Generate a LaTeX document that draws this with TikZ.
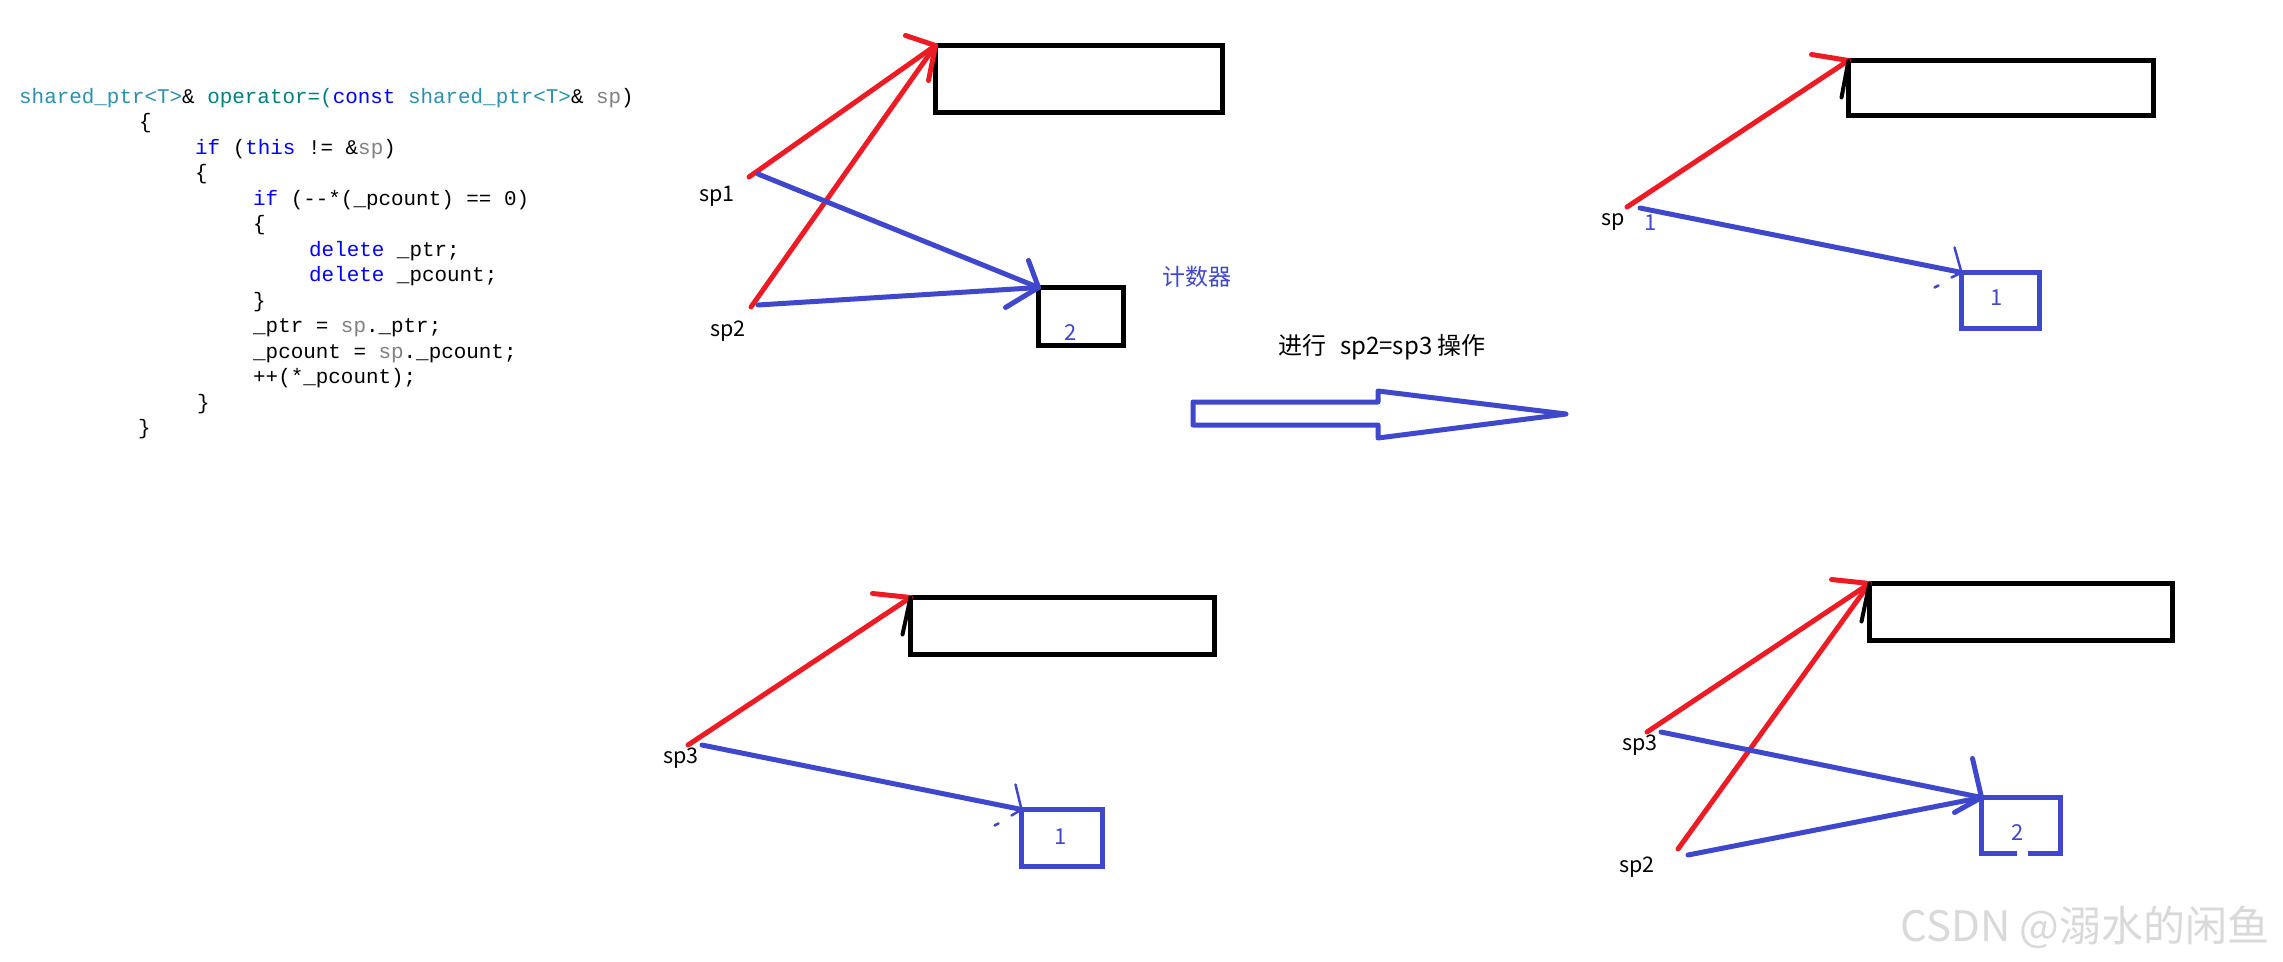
\documentclass[tikz,border=0pt]{standalone}
\usepackage{fontspec}
\usepackage{tikz}
\usepackage{xcolor}
\setmainfont{Noto Sans CJK SC}
\newfontfamily\codefont{Liberation Mono}
\definecolor{Paint_Red}{HTML}{ED1C24}
\definecolor{Paint_Blue}{HTML}{3F48CC}
\definecolor{Code_Type}{HTML}{2B91AF}
\definecolor{Code_Op}{HTML}{008080}
\definecolor{Code_Key}{HTML}{0000FF}
\definecolor{Code_Arg}{HTML}{808080}

\begin{document}
\begin{tikzpicture}[x=1pt, y=-1pt,
    redpen/.style={Paint_Red, line width=5pt, line cap=round, line join=round},
    bluepen/.style={Paint_Blue, line width=5pt, line cap=round, line join=round},
    thinpen/.style={Paint_Blue, line width=2.5pt, line cap=round},
    blackpen/.style={black, line width=4pt, line cap=round},
    objbox/.style={draw=black, line width=5pt, inner sep=0pt, outer sep=0pt},
    cntbox/.style={draw=#1, line width=4.5pt, inner sep=0pt, outer sep=0pt},
    ptrname/.style={inner sep=0pt, font=\fontsize{21.5}{21.5}\selectfont},
    cntval/.style={inner sep=0pt, text=Paint_Blue, font=\fontsize{22}{22}\selectfont},
    codeline/.style={anchor=base west, inner sep=0pt, font=\codefont\fontsize{20.9}{25.5}\selectfont}]

    % Page
    \fill[white] (0,0) rectangle (2283,961);
    \useasboundingbox (0,0) rectangle (2283,961);

    % Code of operator=
    \node[codeline] (code1) at (19,103) {\textcolor{Code_Type}{shared\_ptr<T>}\&
      \textcolor{Code_Op}{operator=(}\textcolor{Code_Key}{const}
      \textcolor{Code_Type}{shared\_ptr<T>}\& \textcolor{Code_Arg}{sp})};
    \node[codeline] (code2) at (139,128.5) {\{};
    \node[codeline] (code3) at (195,154) {\textcolor{Code_Key}{if} (\textcolor{Code_Key}{this} != \&\textcolor{Code_Arg}{sp})};
    \node[codeline] (code4) at (195,179.5) {\{};
    \node[codeline] (code5) at (253,205) {\textcolor{Code_Key}{if} (-{}-*(\_pcount) == 0)};
    \node[codeline] (code6) at (253,230.5) {\{};
    \node[codeline] (code7) at (309,256) {\textcolor{Code_Key}{delete} \_ptr;};
    \node[codeline] (code8) at (309,281.5) {\textcolor{Code_Key}{delete} \_pcount;};
    \node[codeline] (code9) at (253,307) {\}};
    \node[codeline] (code10) at (253,332.5) {\_ptr = \textcolor{Code_Arg}{sp}.\_ptr;};
    \node[codeline] (code11) at (253,358) {\_pcount = \textcolor{Code_Arg}{sp}.\_pcount;};
    \node[codeline] (code12) at (253,383.5) {++(*\_pcount);};
    \node[codeline] (code13) at (197,409) {\}};
    \node[codeline] (code14) at (138,434.5) {\}};

    % Before: sp1 and sp2 share one object
    \node[objbox, minimum width=287, minimum height=67] (obj1) at (1079,79) {};
    \node[cntbox=black, minimum width=85, minimum height=58] (cnt1) at (1081,316.5) {};
    \node[cntval] (val1) at (1071,333) {2};
    \node[ptrname] (sp1) at (717,196) {sp1};
    \node[ptrname] (sp2) at (728,331) {sp2};
    \node[inner sep=0pt, text=Paint_Blue, font=\fontsize{23}{23}\selectfont] (cntname) at (1197,277) {计数器};
    \coordinate (sp1r) at (749,177);
    \coordinate (sp2r) at (751,307);
    \coordinate (sp1b) at (758,174);
    \coordinate (sp2b) at (758,305);
    \draw[redpen] (sp1r) -- (obj1.north west);
    \draw[redpen] (sp2r) -- (obj1.north west);
    \draw[redpen] (obj1.north west) -- ++(-30,-10);
    \draw[redpen] (obj1.north west) -- ++(-7,35);
    \draw[bluepen] (sp1b) -- (cnt1.north west);
    \draw[bluepen] (sp2b) -- (cnt1.north west);
    \draw[bluepen] (cnt1.north west) -- ++(-10,-27);
    \draw[bluepen] (cnt1.north west) -- ++(-33,20);

    % Transition
    \node[inner sep=0pt, font=\fontsize{24}{24}\selectfont] (step) at (1382,347) {进行\hspace{14pt}sp2=sp3 操作};
    \draw[Paint_Blue, line width=5pt, line join=round]
      (1193,402) -- (1378,402) -- (1378,391) -- (1566,414)
      -- (1378,438) -- (1378,425) -- (1193,425) -- cycle;

    % sp3 with its own object
    \node[objbox, minimum width=304, minimum height=57] (obj3) at (1062.5,626) {};
    \node[cntbox=Paint_Blue, minimum width=81, minimum height=57] (cnt3) at (1062,838) {};
    \node[cntval] (val3) at (1061,837) {1};
    \node[ptrname] (sp3) at (681,758) {sp3};
    \coordinate (sp3r) at (688,745);
    \coordinate (sp3b) at (702,745);
    \draw[redpen] (sp3r) -- (obj3.north west);
    \draw[redpen] (obj3.north west) -- ++(-38,-4);
    \draw[blackpen] (obj3.north west) -- ++(-8,37);
    \draw[bluepen] (sp3b) -- (cnt3.north west);
    \draw[thinpen] (cnt3.north west) -- ++(-6,-25);
    \draw[thinpen] (cnt3.north west) -- ++(-10,6);
    \draw[thinpen] (cnt3.north west) ++(-27,16) -- ++(4,-2);

    % After: sp1 alone
    \node[objbox, minimum width=305, minimum height=55] (obj2) at (2001,88) {};
    \node[cntbox=Paint_Blue, minimum width=78, minimum height=56] (cnt2) at (2000.5,300.5) {};
    \node[cntval] (val2) at (1997,298) {1};
    \node[ptrname] (spa) at (1613,222) {sp};
    \node[cntval] (spb) at (1651,223) {1};
    \coordinate (spr) at (1627,207);
    \coordinate (spbl) at (1640,208);
    \draw[redpen] (spr) -- (obj2.north west);
    \draw[redpen] (obj2.north west) -- ++(-37,-6);
    \draw[blackpen] (obj2.north west) -- ++(-7,37);
    \draw[bluepen] (spbl) -- (cnt2.north west);
    \draw[thinpen] (cnt2.north west) -- ++(-7,-25);
    \draw[thinpen] (cnt2.north west) -- ++(-10,5);
    \draw[thinpen] (cnt2.north west) ++(-27,15) -- ++(4,-2);

    % After: sp2 and sp3 share
    \node[objbox, minimum width=303, minimum height=57] (obj4) at (2021,612) {};
    \node[cntbox=Paint_Blue, minimum width=79, minimum height=56] (cnt4) at (2021,825.5) {};
    \draw[white, line width=6pt] (2017,853.5) -- (2028,853.5);
    \node[cntval] (val4) at (2018,833) {2};
    \node[ptrname] (sp3n) at (1640,745) {sp3};
    \node[ptrname] (sp2n) at (1637,867) {sp2};
    \coordinate (sp3nr) at (1647,732);
    \coordinate (sp2nr) at (1678,849);
    \coordinate (sp3nb) at (1661,732);
    \coordinate (sp2nb) at (1688,855);
    \draw[redpen] (sp3nr) -- (obj4.north west);
    \draw[redpen] (sp2nr) -- (obj4.north west);
    \draw[redpen] (obj4.north west) -- ++(-38,-4);
    \draw[blackpen] (obj4.north west) -- ++(-8,38);
    \draw[bluepen] (sp3nb) -- (cnt4.north west);
    \draw[bluepen] (sp2nb) -- (cnt4.north west);
    \draw[bluepen] (cnt4.north west) -- ++(-9,-39);
    \draw[bluepen] (cnt4.north west) -- ++(-27,15);

    % Watermark
    \node[inner sep=0pt, text=black!15, font=\fontsize{42}{42}\selectfont] (mark) at (2085,927) {CSDN @溺水的闲鱼};
\end{tikzpicture}
\end{document}
